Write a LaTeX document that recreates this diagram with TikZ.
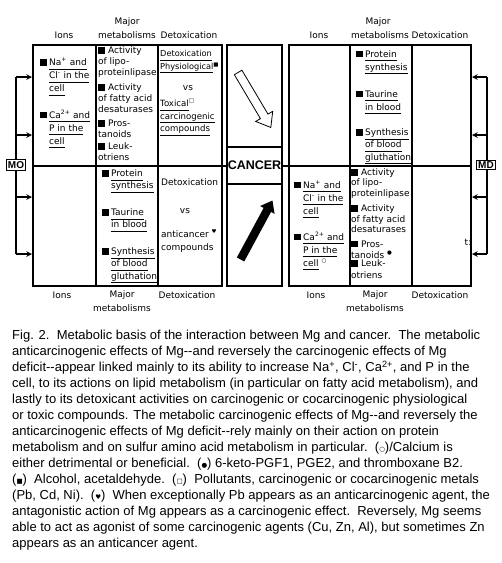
\documentclass[tikz,border=0pt]{standalone}
\usepackage{fontspec}
\setmainfont{Liberation Sans}
\newfontfamily\dgfont{DejaVu Sans}
\usetikzlibrary{shapes.arrows}

\newcommand{\hand}{\rule{7pt}{6.5pt}}
\newcommand{\hb}{\llap{\hand\hspace{2.5pt}}}
\newcommand{\ul}[1]{\underline{#1\vphantom{g}}}
\newcommand{\sym}[1]{{\dgfont\fontsize{6.5}{6.5}\selectfont#1}}
\newcommand{\tsym}[1]{\textsuperscript{\fontsize{5.5}{5.5}\selectfont#1}}

\tikzset{
  celltext/.style={anchor=north west, inner sep=0pt, align=left,
    font=\dgfont\fontsize{9}{13}\selectfont},
  tighttext/.style={celltext, font=\dgfont\fontsize{9}{10.6}\selectfont},
  hdr/.style={inner sep=0pt, font=\dgfont\fontsize{9}{10}\selectfont},
  blk/.style={draw, line width=2pt, inner sep=0pt},
  tag/.style={draw, fill=white, line width=1pt, inner sep=1.5pt,
    font=\bfseries\fontsize{10}{10}\selectfont},
}

\begin{document}
\begin{tikzpicture}[x=1pt, y=-1pt, >=stealth]
  \useasboundingbox (0,0) rectangle (502,563);

  % the three blocks
  \node[blk, minimum width=189pt, minimum height=241pt] (lb) at (127.5,165.5) {};
  \node[blk, minimum width=55pt, minimum height=241pt] (mb) at (254.5,165.5) {};
  \node[blk, minimum width=182pt, minimum height=241pt] (rb) at (380,165.5) {};
  \node[blk, minimum width=55pt, minimum height=37pt,
    font=\bfseries\fontsize{12.5}{12.5}\selectfont] (cancer) at (254.5,165.5) {CANCER};

  % column dividers and middle line
  \draw[line width=2pt] (96,45) -- (96,286);
  \draw[line width=2pt] (158,45) -- (158,286);
  \draw[line width=2pt] (350,45) -- (350,286);
  \draw[line width=2pt] (412,45) -- (412,286);
  \draw[line width=2pt] (lb.west) -- (lb.east);
  \draw[line width=2pt] (rb.west) -- (rb.east);
  \draw[line width=2pt] (lb.east) -- (cancer.west);
  \draw[line width=2pt] (cancer.east) -- (rb.west);

  % arrows in the middle box
  \node[single arrow, draw, fill=white, line width=0.8pt, inner sep=4pt,
    minimum height=64pt, single arrow head extend=5.5pt,
    single arrow tip angle=75, rotate=-59.3] (down) at (253,97.5) {};
  \node[single arrow, fill=black, inner sep=4pt,
    minimum height=67pt, single arrow head extend=4pt,
    single arrow tip angle=75, rotate=61.6] (up) at (255.2,232.4) {};

  % MO and MD brackets
  \foreach \yy [count=\i] in {77,135,197,254} {
    \coordinate (mo\i) at (16,\yy);
    \coordinate (md\i) at (487,\yy);
    \draw[->, line width=1.5pt] (mo\i) -- (mo\i -| lb.west);
    \draw[->, line width=1.5pt] (md\i) -- (md\i -| rb.east);
  }
  \draw[line width=1.5pt] (mo1) -- (mo4);
  \draw[line width=1.5pt] (md1) -- (md4);
  \node[tag] (mo) at (16,165) {MO};
  \node[tag] (md) at (486,165) {MD};

  % column heads
  \node[hdr] (lions) at (64,35) {Ions};
  \node[hdr] (lmaj) at (127,22) {Major};
  \node[hdr] (lmet) at (127,35) {metabolisms};
  \node[hdr] (ldtx) at (189,35) {Detoxication};
  \node[hdr] (rions) at (319,35) {Ions};
  \node[hdr] (rmaj) at (378,22) {Major};
  \node[hdr] (rmet) at (380,35) {metabolisms};
  \node[hdr] (rdtx) at (440,35) {Detoxication};
  \node[hdr] (bions) at (62,295) {Ions};
  \node[hdr] (bmaj) at (122,295) {Major};
  \node[hdr] (bmet) at (122,308) {metabolisms};
  \node[hdr] (bdtx) at (187,295) {Detoxication};
  \node[hdr] (rbions) at (316,295) {Ions};
  \node[hdr] (rbmaj) at (375,295) {Major};
  \node[hdr] (rbmet) at (375,308) {metabolisms};
  \node[hdr] (rbdtx) at (440,295) {Detoxication};

  % left block, upper row
  \node[celltext] (lna) at (49,56.2) {\strut\hb\ul{Na\textsuperscript{+} and}\\
    \ul{Cl\textsuperscript{-} in the}\\ \ul{cell}};
  \node[celltext] (lca) at (49,108.7) {\strut\hb\ul{Ca\textsuperscript{2+} and}\\
    \ul{P in the}\\ \ul{cell}};
  \node[tighttext] (lact1) at (98,46.3) {\strut\hand\ Activity\\ of lipo-\\ proteinlipase};
  \node[tighttext] (lact2) at (98,83.3) {\strut\hand\ Activity\\ of fatty acid\\ desaturases};
  \node[tighttext] (lpros) at (98,119.3) {\strut\hand\ Pros-\\ tanoids};
  \node[tighttext] (lleuk) at (98,142.3) {\strut\hand\ Leuk-\\ otriens};
  \node[celltext, font=\dgfont\fontsize{8.2}{12.3}\selectfont] (ldet) at (160,48)
    {\strut\ul{Detoxication}\\ \ul{Physiological}\tsym{■}};
  \node[hdr] (lvs) at (188,88) {vs};
  \node[celltext, font=\dgfont\fontsize{8.6}{12.5}\selectfont] (ltox) at (160,97.7)
    {\strut\ul{Toxical}\tsym{□}\\ \ul{carcinogenic}\\ \ul{compounds}};

  % left block, lower row
  \node[celltext, font=\dgfont\fontsize{9}{12.3}\selectfont] (lprot) at (111,167.7)
    {\strut\hb\ul{Protein}\\ \ul{synthesis}};
  \node[celltext, font=\dgfont\fontsize{9}{12.3}\selectfont] (ltaur) at (111,206.7)
    {\strut\hb\ul{Taurine}\\ \ul{in blood}};
  \node[celltext, font=\dgfont\fontsize{9}{12.3}\selectfont] (lsyn) at (111,245.7)
    {\strut\hb\ul{Synthesis}\\ \ul{of blood}\\ \ul{gluthation}};
  \node[hdr, anchor=west] (ldet2) at (161,182) {Detoxication};
  \node[hdr] (lvs2) at (185,211) {vs};
  \node[celltext] (lanti) at (161,227.7) {\strut anticancer \tsym{♥}\\ compounds};

  % right block, upper row
  \node[celltext] (rprot) at (365,48) {\strut\hb\ul{Protein}\\ \ul{synthesis}};
  \node[celltext] (rtaur) at (365,87.7) {\strut\hb\ul{Taurine}\\ \ul{in blood}};
  \node[celltext, font=\dgfont\fontsize{9}{12.3}\selectfont] (rsyn) at (365,126.7)
    {\strut\hb\ul{Synthesis}\\ \ul{of blood}\\ \ul{gluthation}};

  % right block, lower row
  \node[celltext] (rna) at (303,178.7) {\strut\hb\ul{Na\textsuperscript{+} and}\\
    \ul{Cl\textsuperscript{-} in the}\\ \ul{cell}};
  \node[celltext] (rca) at (303,230.7) {\strut\hb\ul{Ca\textsuperscript{2+} and}\\
    \ul{P in the}\\ \ul{cell} \tsym{○}};
  \node[tighttext, font=\dgfont\fontsize{9}{10.2}\selectfont] (ract1) at (351,168.3)
    {\strut\hand\ Activity\\ of lipo-\\ proteinlipase};
  \node[tighttext, font=\dgfont\fontsize{9}{10.4}\selectfont] (ract2) at (351,204.3)
    {\strut\hand\ Activity\\ of fatty acid\\ desaturases};
  \node[tighttext, font=\dgfont\fontsize{9}{9.6}\selectfont] (rpros) at (351,240.3)
    {\strut\hand\ Pros-\\ tanoids \tsym{●}};
  \node[tighttext, font=\dgfont\fontsize{9}{12}\selectfont] (rleuk) at (351,258.3)
    {\strut\hand\ Leuk-\\ otriens};
  \node[hdr] (stray) at (468,242) {t:};

  % caption
  \node[anchor=north west, inner sep=0pt, align=left,
    font=\fontsize{13}{16}\selectfont] (caption) at (12,328.4) {\strut
    Fig. 2.\ \ Metabolic basis of the interaction between Mg and cancer.\ \ The metabolic\\
    anticarcinogenic effects of Mg-{}-and reversely the carcinogenic effects of Mg\\
    deficit-{}-appear linked mainly to its ability to increase Na\textsuperscript{+}, Cl\textsuperscript{-}, Ca\textsuperscript{2+}, and P in the\\
    cell, to its actions on lipid metabolism (in particular on fatty acid metabolism), and\\
    lastly to its detoxicant activities on carcinogenic or cocarcinogenic physiological\\
    or toxic compounds. The metabolic carcinogenic effects of Mg-{}-and reversely the\\
    anticarcinogenic effects of Mg deficit-{}-rely mainly on their action on protein\\
    metabolism and on sulfur amino acid metabolism in particular.\ \ (\sym{○})/Calcium is\\
    either detrimental or beneficial.\ \ (\sym{●}) 6-keto-PGF1, PGE2, and thromboxane B2.\\
    (\sym{■})\ \ Alcohol, acetaldehyde.\ \ (\sym{□})\ \ Pollutants, carcinogenic or cocarcinogenic metals\\
    (Pb, Cd, Ni).\ \ (\sym{♥})\ \ When exceptionally Pb appears as an anticarcinogenic agent, the\\
    antagonistic action of Mg appears as a carcinogenic effect.\ \ Reversely, Mg seems\\
    able to act as agonist of some carcinogenic agents (Cu, Zn, Al), but sometimes Zn\\
    appears as an anticancer agent.};
\end{tikzpicture}
\end{document}
